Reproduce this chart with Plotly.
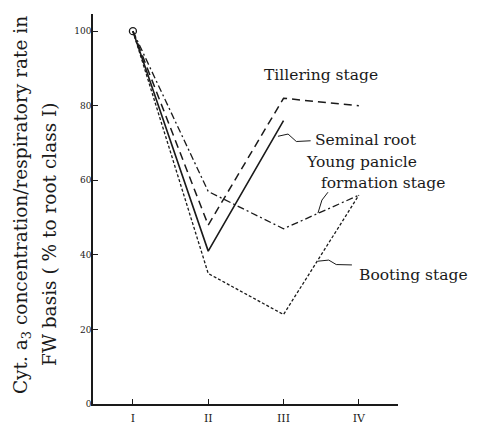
import plotly.graph_objects as go

root_class = [1, 2, 3, 4]
tick_labels = ["I", "II", "III", "IV"]
seminal_root = [100, 41, 76]
tillering = [100, 48, 82, 80]
young_panicle = [100, 57, 47, 56]
booting = [100, 35, 24, 56]

FONT = "DejaVu Serif"
INK = "#1a1a1a"

fig = go.Figure()
fig.add_trace(go.Scatter(x=root_class[:3], y=seminal_root, mode="lines",
                         line=dict(color=INK, width=1.6, dash="solid"), name="Seminal root"))
fig.add_trace(go.Scatter(x=root_class, y=tillering, mode="lines",
                         line=dict(color=INK, width=1.5, dash="8px,5px"), name="Tillering stage"))
fig.add_trace(go.Scatter(x=root_class, y=young_panicle, mode="lines",
                         line=dict(color=INK, width=1.3, dash="7px,3px,2px,3px"),
                         name="Young panicle formation stage"))
fig.add_trace(go.Scatter(x=root_class, y=booting, mode="lines",
                         line=dict(color=INK, width=1.3, dash="3px,2px"), name="Booting stage"))
fig.add_trace(go.Scatter(x=root_class[:1], y=seminal_root[:1], mode="markers",
                         marker=dict(symbol="circle-open", size=7, color=INK, line=dict(width=1.3)),
                         showlegend=False))

lab = dict(family=FONT, size=15.5, color=INK)
labels = [
    ("Tillering stage", 2.726, 88.2),
    ("Seminal root", 3.404, 70.8),
    ("Young panicle", 3.284, 64.8),
    ("formation stage", 3.483, 59.3),
    ("Booting stage", 3.988, 34.6),
]
for txt, lx, ly in labels:
    fig.add_annotation(x=lx, y=ly, xref="x", yref="y", text=txt, showarrow=False,
                       xanchor="left", yanchor="middle", font=lab, borderpad=0)

leaders = [
    "M 2.926 71.8 L 3.06 72.4 L 3.17 70.4 L 3.36 70.6",
    "M 3.457 51.2 L 3.51 54.7 L 3.59 56.8",
    "M 3.457 38.3 L 3.60 38.6 L 3.70 37.4 L 3.908 37.3",
]
for p in leaders:
    fig.add_shape(type="path", path=p, xref="x", yref="y",
                  line=dict(color=INK, width=1))

title_font = dict(family=FONT, size=18.5, color=INK)
fig.add_annotation(x=-0.233, y=0.51, xref="paper", yref="paper", textangle=-90,
                   text="Cyt. a<sub>3</sub> concentration/respiratory rate in",
                   showarrow=False, xanchor="center", yanchor="middle", font=title_font)
fig.add_annotation(x=-0.141, y=0.436, xref="paper", yref="paper", textangle=-90,
                   text="FW basis ( % to root class I)",
                   showarrow=False, xanchor="center", yanchor="middle", font=title_font)

fig.update_layout(
    width=493, height=426,
    margin=dict(l=93, r=95, t=14, b=22, autoexpand=False),
    paper_bgcolor="white", plot_bgcolor="white",
    showlegend=False,
    xaxis=dict(range=[0.47, 4.52], tickvals=root_class, ticktext=tick_labels,
               ticks="inside", ticklen=5, tickcolor=INK, showline=True, linecolor=INK,
               linewidth=1.5, showgrid=False, zeroline=False, ticklabelstandoff=3,
               automargin=False,
               tickfont=dict(family=FONT, size=11, color=INK)),
    yaxis=dict(range=[0, 104.6], tickvals=[0, 20, 40, 60, 80, 100],
               ticks="inside", ticklen=5, tickcolor=INK, showline=True, linecolor=INK,
               linewidth=1.5, showgrid=False, zeroline=False, ticklabelstandoff=-2,
               automargin=False,
               tickfont=dict(family=FONT, size=9, color=INK)),
)
fig.write_html("out.html", config={"displayModeBar": False},
               post_script="document.body.style.margin='0';document.body.style.overflow='hidden';")
